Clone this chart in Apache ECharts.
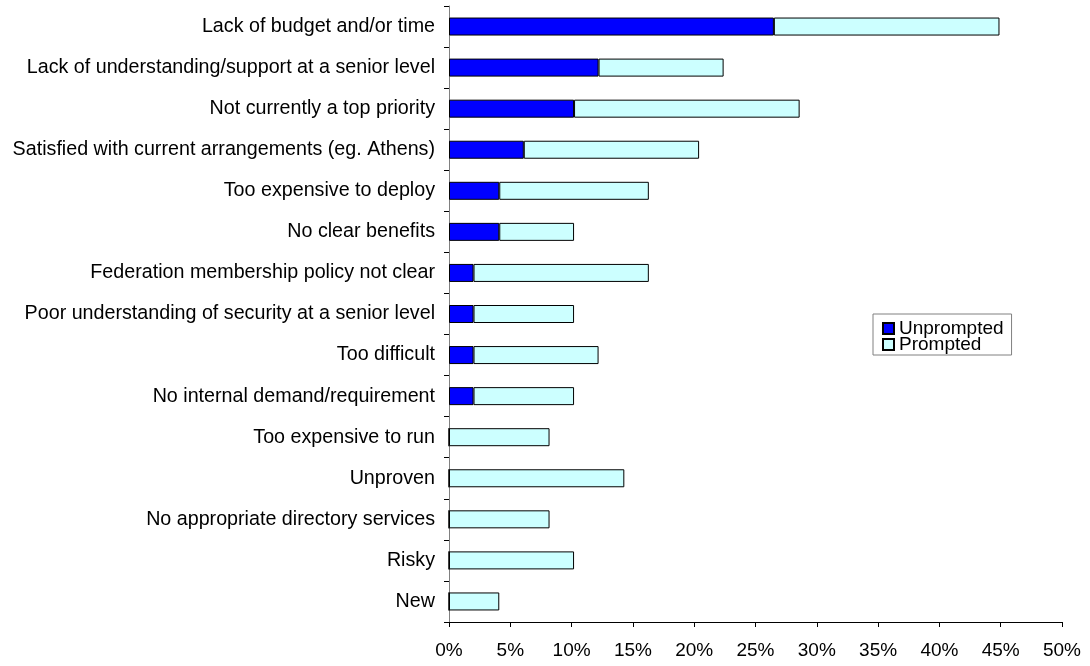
<!DOCTYPE html>
<html>
<head>
<meta charset="utf-8">
<script src="https://cdn.jsdelivr.net/npm/echarts@6/dist/echarts.min.js"></script>
<style>
  html, body { margin: 0; padding: 0; background: #fff; }
  #chart { width: 1090px; height: 666px; }
</style>
</head>
<body>
<div id="chart"></div>
<script>
// Reasons given, top to bottom
const categories = [
  'Lack of budget and/or time',
  'Lack of understanding/support at a senior level',
  'Not currently a top priority',
  'Satisfied with current arrangements (eg. Athens)',
  'Too expensive to deploy',
  'No clear benefits',
  'Federation membership policy not clear',
  'Poor understanding of security at a senior level',
  'Too difficult',
  'No internal demand/requirement',
  'Too expensive to run',
  'Unproven',
  'No appropriate directory services',
  'Risky',
  'New'
];

// Share of respondents (%)
const unprompted = [26.5, 12.2, 10.2, 6.1, 4.1, 4.1, 2.0, 2.0, 2.0, 2.0, 0, 0, 0, 0, 0];
const prompted   = [18.4, 10.2, 18.4, 14.3, 12.2, 6.1, 14.3, 8.2, 10.2, 8.2, 8.2, 14.3, 8.2, 10.2, 4.1];

const xTicks = { min: 0, max: 50, step: 5 };

const font = 'Liberation Sans, Arial, sans-serif';
const chart = echarts.init(document.getElementById('chart'), null, { renderer: 'canvas' });

chart.setOption({
  animation: false,
  backgroundColor: '#ffffff',
  textStyle: { fontFamily: font },
  grid: { left: 449, right: 28, top: 6, bottom: 44, containLabel: false },
  legend: {
    orient: 'vertical',
    left: 873,
    top: 314,
    padding: [5, 8, 1, 9],
    itemWidth: 11,
    itemHeight: 11,
    itemGap: -3,
    borderColor: '#808080',
    borderWidth: 1,
    textStyle: { fontFamily: font, fontSize: 19, color: '#000' },
    data: [
      { name: 'Unprompted', icon: 'rect' },
      { name: 'Prompted', icon: 'rect' }
    ]
  },
  xAxis: {
    type: 'value',
    min: xTicks.min,
    max: xTicks.max,
    interval: xTicks.step,
    splitLine: { show: false },
    axisLine: { show: true, lineStyle: { color: '#000', width: 1 } },
    axisTick: { show: true, length: 5, lineStyle: { color: '#000' } },
    axisLabel: {
      formatter: '{value}%',
      fontFamily: font,
      fontSize: 19,
      color: '#000',
      margin: 19
    }
  },
  yAxis: {
    type: 'category',
    inverse: true,
    data: categories,
    axisLine: { show: true, lineStyle: { color: '#808080', width: 1 } },
    axisTick: { show: true, length: 5, lineStyle: { color: '#000' } },
    axisLabel: {
      fontFamily: font,
      fontSize: 19.7,
      color: '#000',
      margin: 14
    }
  },
  series: [
    {
      name: 'Unprompted',
      type: 'bar',
      stack: 'all',
      barWidth: 18,
      data: unprompted,
      itemStyle: { color: '#0000ff', borderColor: '#000', borderWidth: 1 }
    },
    {
      name: 'Prompted',
      type: 'bar',
      stack: 'all',
      barWidth: 18,
      data: prompted,
      itemStyle: { color: '#ccffff', borderColor: '#000', borderWidth: 1 }
    }
  ]
});
</script>
</body>
</html>
